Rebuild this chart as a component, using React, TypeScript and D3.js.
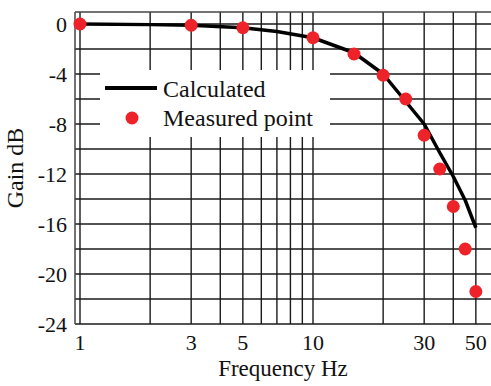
import * as d3 from 'd3';

// Calculated response (solid line)
const calcFreq = [1, 2, 3, 5, 7, 10, 15, 20, 25, 30, 35, 40, 45, 50];
const calcGain = [0, -0.05, -0.1, -0.3, -0.6, -1.1, -2.3, -4.0, -6.2, -8.0, -10.3, -12.2, -14.1, -16.3];

// Measured points (red dots)
const measFreq = [1, 3, 5, 10, 15, 20, 25, 30, 35, 40, 45, 50];
const measGain = [0, -0.1, -0.3, -1.1, -2.4, -4.1, -6.0, -8.9, -11.6, -14.6, -18.0, -21.4];

const xTickLabels = [1, 3, 5, 10, 30, 50];
const xGridValues = [1, 2, 3, 4, 5, 6, 7, 8, 9, 10, 20, 30, 40, 50];
const yTickLabels = [0, -4, -8, -12, -16, -20, -24];
const yGridValues = [0, -2, -4, -6, -8, -10, -12, -14, -16, -18, -20, -22];

const W = 491;
const H = 386;
const frame = { left: 75, top: 12, bottom: 324, right: W };
const legendBox = { x: 100, y: 70, w: 230, h: 67 };

const FONT = '"Liberation Serif", "Times New Roman", serif';

export default function App() {
  const x = d3.scaleLog().domain([1, 10]).range([80, 313]);
  const y = d3.scaleLinear().domain([0, -24]).range([24, 324]);

  const calcData = calcFreq.map((f, i) => [f, calcGain[i]] as [number, number]);
  const line = d3.line<[number, number]>()
    .x(d => x(d[0]))
    .y(d => y(d[1]));

  const grid = '#1a1a1a';

  return (
    <svg width={W} height={H} style={{ position: 'absolute', left: 0, top: 0, background: '#fff' }}>
      {/* horizontal grid */}
      {yGridValues.map(v => (
        <line key={'h' + v} x1={frame.left} x2={frame.right} y1={y(v)} y2={y(v)} stroke={grid} strokeWidth={1.4} />
      ))}
      {/* vertical grid */}
      {xGridValues.map(v => (
        <line key={'v' + v} x1={x(v)} x2={x(v)} y1={frame.top} y2={frame.bottom} stroke={grid} strokeWidth={1.4} />
      ))}
      {/* frame */}
      <line x1={frame.left} x2={frame.right} y1={frame.top} y2={frame.top} stroke="#444" strokeWidth={1.5} />
      <line x1={frame.left} x2={frame.right} y1={frame.bottom} y2={frame.bottom} stroke={grid} strokeWidth={1.5} />
      <line x1={frame.left} x2={frame.left} y1={frame.top} y2={frame.bottom} stroke="#444" strokeWidth={1.5} />

      {/* legend background */}
      <rect x={legendBox.x} y={legendBox.y} width={legendBox.w} height={legendBox.h} fill="#fff" />

      {/* calculated line */}
      <path d={line(calcData) || ''} fill="none" stroke="#000" strokeWidth={3.5} strokeLinejoin="round" />

      {/* measured points */}
      {measFreq.map((f, i) => (
        <circle key={'m' + f} cx={x(f)} cy={y(measGain[i])} r={6.5} fill="#ee2229" />
      ))}

      {/* y tick labels */}
      {yTickLabels.map(v => (
        <text key={'yt' + v} x={67} y={y(v)} dy="0.35em" textAnchor="end" fontFamily={FONT} fontSize={22} fill="#111">
          {v}
        </text>
      ))}
      {/* x tick labels */}
      {xTickLabels.map(v => (
        <text key={'xt' + v} x={x(v)} y={350} textAnchor="middle" fontFamily={FONT} fontSize={22} fill="#111">
          {v}
        </text>
      ))}

      {/* axis titles */}
      <text x={283} y={376} textAnchor="middle" fontFamily={FONT} fontSize={23} fill="#111">Frequency Hz</text>
      <text transform={`translate(23,${(frame.top + frame.bottom) / 2}) rotate(-90)`} textAnchor="middle"
        fontFamily={FONT} fontSize={24} fill="#111">Gain dB</text>

      {/* legend */}
      <line x1={105} x2={157} y1={88} y2={88} stroke="#000" strokeWidth={4} />
      <text x={163} y={97} fontFamily={FONT} fontSize={24} fill="#111">Calculated</text>
      <circle cx={132} cy={118} r={6.5} fill="#ee2229" />
      <text x={163} y={126} fontFamily={FONT} fontSize={24} fill="#111">Measured point</text>
    </svg>
  );
}
